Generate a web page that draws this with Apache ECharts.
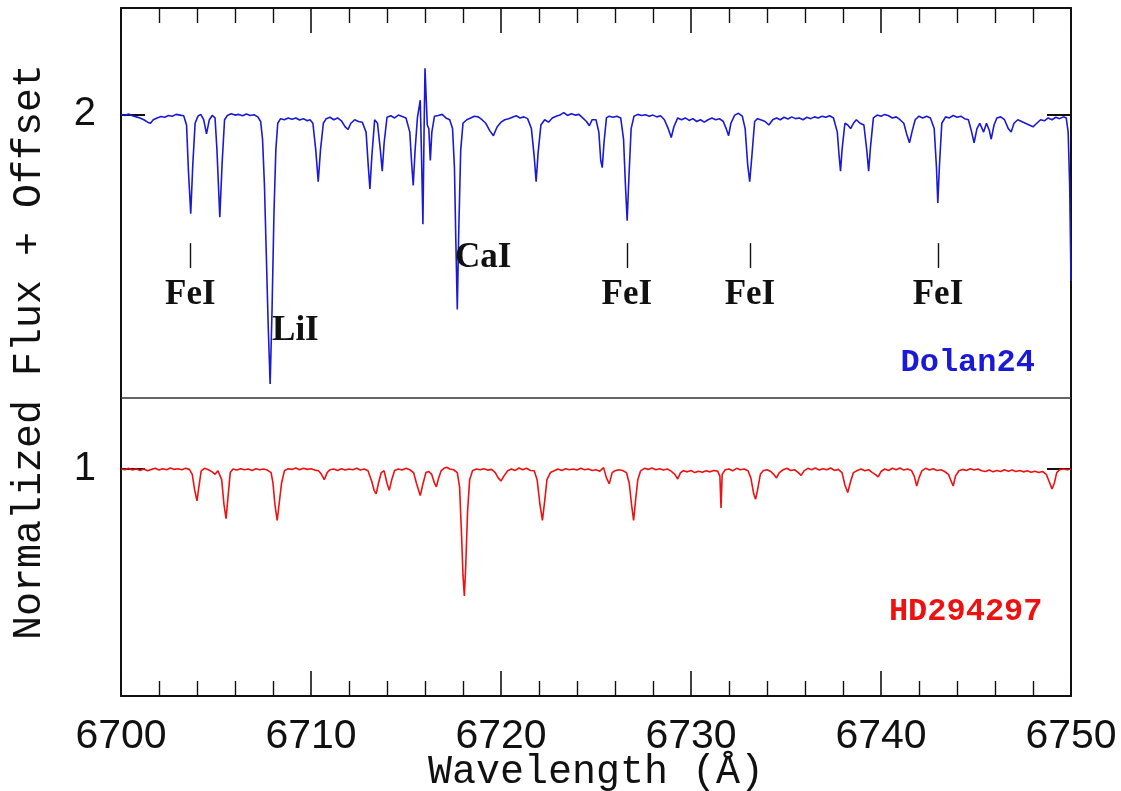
<!DOCTYPE html>
<html>
<head>
<meta charset="utf-8">
<script src="https://cdn.jsdelivr.net/npm/echarts@6/dist/echarts.min.js"></script>
<style>html,body{margin:0;padding:0;background:#fff}#c{width:1121px;height:791px}</style>
</head>
<body>
<div id="c"></div>
<script>
// ---- data ----
const xTickLabels = [6700, 6710, 6720, 6730, 6740, 6750];
const yTickLabels = [1, 2];
const separatorY = 1.2;
const feiMarks = [6703.65, 6726.62, 6733.1, 6743.0];
const lineLabels = [
  ['FeI', 6703.65, 1.49, 'center'],
  ['FeI', 6726.62, 1.49, 'center'],
  ['FeI', 6733.1, 1.49, 'center'],
  ['FeI', 6743.0, 1.49, 'center'],
  ['LiI', 6707.95, 1.39, 'left'],
  ['CaI', 6717.58, 1.595, 'left']
];
const starNames = [['Dolan24', 6748.1, 1.30], ['HD294297', 6748.5, 0.597]];

const dolanSpectrum = [
[6700.0,2.000],[6700.2,1.997],[6700.4,2.001],[6700.6,1.996],[6700.8,1.993],[6701.0,1.990],[6701.2,1.985],[6701.4,1.978],[6701.55,1.975],[6701.7,1.985],[6701.9,1.990],[6702.1,1.994],[6702.3,1.992],[6702.5,1.997],[6702.7,1.995],[6702.9,2.000],[6703.1,1.998],[6703.3,1.996],[6703.45,1.97],[6703.55,1.84],[6703.67,1.72],[6703.78,1.86],[6703.9,1.975],[6704.05,1.995],[6704.2,2.000],[6704.35,1.985],[6704.5,1.945],[6704.65,1.985],[6704.8,1.997],[6704.95,1.99],[6705.05,1.90],[6705.2,1.71],[6705.32,1.86],[6705.45,1.985],[6705.6,1.997],[6705.8,2.002],[6706.0,1.998],[6706.2,2.000],[6706.4,1.996],[6706.6,2.001],[6706.8,1.997],[6707.0,1.999],[6707.2,1.993],[6707.35,1.980],[6707.45,1.93],[6707.55,1.80],[6707.65,1.60],[6707.75,1.40],[6707.85,1.24],[6707.95,1.45],[6708.05,1.72],[6708.15,1.90],[6708.25,1.975],[6708.4,1.988],[6708.6,1.985],[6708.8,1.990],[6709.0,1.986],[6709.2,1.990],[6709.4,1.984],[6709.6,1.988],[6709.8,1.982],[6709.95,1.985],[6710.1,1.975],[6710.25,1.90],[6710.38,1.81],[6710.5,1.90],[6710.65,1.975],[6710.8,1.988],[6711.0,1.992],[6711.2,1.985],[6711.4,1.990],[6711.6,1.982],[6711.8,1.965],[6711.95,1.958],[6712.1,1.975],[6712.3,1.985],[6712.5,1.980],[6712.7,1.978],[6712.9,1.95],[6713.02,1.85],[6713.1,1.79],[6713.2,1.88],[6713.35,1.985],[6713.5,1.975],[6713.65,1.90],[6713.75,1.84],[6713.85,1.92],[6714.0,1.992],[6714.2,1.996],[6714.4,1.990],[6714.6,1.998],[6714.8,1.994],[6715.0,1.99],[6715.2,1.95],[6715.3,1.86],[6715.38,1.80],[6715.48,1.90],[6715.6,1.99],[6715.75,2.04],[6715.83,1.85],[6715.89,1.69],[6715.95,1.95],[6716.0,2.13],[6716.06,2.05],[6716.12,1.97],[6716.2,1.96],[6716.28,1.87],[6716.36,1.95],[6716.5,1.995],[6716.7,1.997],[6716.9,2.000],[6717.1,1.990],[6717.3,1.985],[6717.45,1.96],[6717.55,1.85],[6717.62,1.65],[6717.7,1.45],[6717.78,1.68],[6717.88,1.90],[6718.0,1.975],[6718.2,1.985],[6718.4,1.990],[6718.6,1.995],[6718.8,1.993],[6719.0,1.985],[6719.2,1.975],[6719.4,1.955],[6719.6,1.940],[6719.8,1.965],[6720.0,1.978],[6720.2,1.985],[6720.4,1.988],[6720.6,1.992],[6720.8,1.996],[6721.0,1.990],[6721.2,1.993],[6721.4,1.988],[6721.6,1.96],[6721.75,1.88],[6721.85,1.81],[6721.95,1.89],[6722.1,1.97],[6722.3,1.985],[6722.5,1.978],[6722.7,1.990],[6722.9,1.995],[6723.1,1.998],[6723.3,2.005],[6723.5,1.997],[6723.7,2.002],[6723.9,1.998],[6724.1,2.000],[6724.3,1.990],[6724.5,1.980],[6724.65,1.968],[6724.8,1.985],[6725.0,1.985],[6725.15,1.95],[6725.25,1.87],[6725.33,1.85],[6725.42,1.92],[6725.55,1.99],[6725.7,1.995],[6725.9,1.992],[6726.1,1.995],[6726.3,1.99],[6726.45,1.93],[6726.55,1.80],[6726.64,1.70],[6726.73,1.82],[6726.85,1.96],[6727.0,1.995],[6727.2,2.000],[6727.4,1.997],[6727.6,1.999],[6727.8,1.995],[6728.0,1.998],[6728.2,1.993],[6728.4,1.996],[6728.6,1.985],[6728.8,1.960],[6728.96,1.935],[6729.1,1.965],[6729.3,1.99],[6729.5,1.985],[6729.7,1.990],[6729.9,1.983],[6730.1,1.988],[6730.3,1.980],[6730.5,1.985],[6730.7,1.978],[6730.9,1.985],[6731.1,1.990],[6731.3,1.985],[6731.5,1.988],[6731.7,1.980],[6731.85,1.960],[6731.98,1.940],[6732.1,1.975],[6732.3,1.998],[6732.5,2.003],[6732.7,1.995],[6732.85,1.96],[6732.98,1.86],[6733.09,1.81],[6733.2,1.88],[6733.35,1.98],[6733.5,1.988],[6733.7,1.984],[6733.9,1.980],[6734.1,1.970],[6734.3,1.985],[6734.5,1.990],[6734.7,1.985],[6734.9,1.992],[6735.1,1.987],[6735.3,1.993],[6735.5,1.988],[6735.7,1.990],[6735.9,1.985],[6736.1,1.992],[6736.3,1.988],[6736.5,1.993],[6736.7,1.990],[6736.9,1.995],[6737.1,1.992],[6737.3,1.996],[6737.5,1.990],[6737.7,1.95],[6737.8,1.88],[6737.87,1.84],[6737.95,1.90],[6738.1,1.975],[6738.25,1.97],[6738.4,1.96],[6738.55,1.975],[6738.7,1.985],[6738.9,1.975],[6739.1,1.97],[6739.25,1.90],[6739.35,1.84],[6739.45,1.91],[6739.6,1.99],[6739.8,1.998],[6740.0,1.995],[6740.2,2.000],[6740.4,1.996],[6740.6,1.990],[6740.8,1.993],[6741.0,1.985],[6741.2,1.975],[6741.35,1.945],[6741.5,1.920],[6741.65,1.955],[6741.8,1.985],[6742.0,1.995],[6742.2,1.990],[6742.4,1.995],[6742.6,1.990],[6742.8,1.96],[6742.92,1.85],[6742.99,1.75],[6743.08,1.86],[6743.2,1.975],[6743.4,1.993],[6743.6,1.990],[6743.8,1.997],[6744.0,1.992],[6744.2,1.995],[6744.4,1.988],[6744.6,1.985],[6744.75,1.955],[6744.9,1.920],[6745.05,1.96],[6745.2,1.975],[6745.4,1.950],[6745.55,1.975],[6745.7,1.955],[6745.8,1.930],[6745.95,1.97],[6746.1,1.99],[6746.3,1.993],[6746.5,1.985],[6746.7,1.960],[6746.85,1.950],[6747.0,1.975],[6747.2,1.985],[6747.4,1.980],[6747.6,1.975],[6747.8,1.970],[6748.0,1.965],[6748.2,1.975],[6748.4,1.985],[6748.6,1.982],[6748.8,1.990],[6749.0,1.985],[6749.2,1.992],[6749.4,1.988],[6749.6,1.993],[6749.75,1.990],[6749.85,1.95],[6749.93,1.80],[6750.0,1.53]
];

const hdSpectrum = [
[6700.0,1.000],[6700.2,0.998],[6700.4,1.002],[6700.6,0.997],[6700.8,1.001],[6701.0,0.996],[6701.2,1.000],[6701.4,0.995],[6701.6,0.999],[6701.8,1.002],[6702.0,0.997],[6702.2,1.001],[6702.4,0.998],[6702.6,1.003],[6702.8,0.999],[6703.0,1.001],[6703.2,0.998],[6703.4,1.002],[6703.6,0.999],[6703.75,0.985],[6703.88,0.94],[6704.0,0.91],[6704.1,0.95],[6704.22,0.995],[6704.4,1.002],[6704.6,0.998],[6704.8,0.992],[6704.95,0.985],[6705.1,0.995],[6705.3,0.97],[6705.42,0.90],[6705.53,0.86],[6705.63,0.92],[6705.75,0.99],[6705.9,1.000],[6706.1,0.997],[6706.3,1.001],[6706.5,0.998],[6706.7,1.000],[6706.9,0.996],[6707.1,1.001],[6707.3,0.998],[6707.5,1.000],[6707.7,0.997],[6707.9,0.99],[6708.0,0.96],[6708.1,0.90],[6708.22,0.855],[6708.32,0.90],[6708.45,0.96],[6708.6,0.995],[6708.8,1.001],[6709.0,0.999],[6709.2,1.003],[6709.4,0.998],[6709.6,1.002],[6709.8,0.999],[6710.0,1.001],[6710.2,0.997],[6710.4,0.995],[6710.55,0.985],[6710.7,0.97],[6710.85,0.99],[6711.0,0.998],[6711.2,1.000],[6711.4,0.996],[6711.6,1.001],[6711.8,0.997],[6712.0,1.000],[6712.2,0.998],[6712.4,1.002],[6712.6,0.997],[6712.8,1.000],[6713.0,0.995],[6713.2,0.965],[6713.32,0.94],[6713.43,0.93],[6713.55,0.96],[6713.7,0.99],[6713.85,0.995],[6714.0,0.96],[6714.12,0.94],[6714.25,0.97],[6714.4,0.996],[6714.6,1.000],[6714.8,0.997],[6715.0,1.002],[6715.2,0.998],[6715.4,0.99],[6715.55,0.96],[6715.75,0.925],[6715.9,0.96],[6716.05,0.99],[6716.2,0.993],[6716.35,0.985],[6716.5,0.96],[6716.6,0.95],[6716.72,0.975],[6716.85,0.995],[6717.0,1.002],[6717.15,1.005],[6717.3,1.000],[6717.5,0.998],[6717.7,0.99],[6717.82,0.95],[6717.92,0.82],[6718.0,0.70],[6718.07,0.642],[6718.14,0.72],[6718.24,0.88],[6718.35,0.97],[6718.5,0.995],[6718.7,1.000],[6718.9,0.998],[6719.1,1.001],[6719.3,0.997],[6719.5,0.999],[6719.7,0.99],[6719.85,0.975],[6720.0,0.966],[6720.15,0.98],[6720.35,0.995],[6720.55,1.000],[6720.75,0.996],[6720.95,1.003],[6721.15,0.998],[6721.35,1.002],[6721.55,0.996],[6721.75,0.995],[6721.9,0.97],[6722.05,0.90],[6722.18,0.855],[6722.3,0.91],[6722.42,0.97],[6722.6,0.99],[6722.8,0.995],[6723.0,1.000],[6723.2,0.996],[6723.4,1.001],[6723.6,0.998],[6723.8,1.000],[6724.0,0.997],[6724.2,1.002],[6724.4,0.998],[6724.6,1.000],[6724.8,0.996],[6725.0,0.998],[6725.2,0.994],[6725.4,1.004],[6725.55,0.975],[6725.7,0.958],[6725.85,0.99],[6726.0,0.995],[6726.2,0.998],[6726.4,0.996],[6726.6,0.99],[6726.75,0.96],[6726.87,0.90],[6726.98,0.855],[6727.08,0.91],[6727.2,0.97],[6727.35,0.995],[6727.55,1.002],[6727.75,0.999],[6727.95,1.003],[6728.15,0.998],[6728.35,1.001],[6728.55,0.997],[6728.75,1.000],[6728.95,0.994],[6729.15,0.985],[6729.3,0.972],[6729.45,0.99],[6729.6,0.995],[6729.8,0.992],[6730.0,0.996],[6730.2,0.990],[6730.4,0.994],[6730.6,0.991],[6730.8,0.995],[6731.0,0.992],[6731.2,0.996],[6731.4,0.994],[6731.52,0.98],[6731.58,0.89],[6731.64,0.985],[6731.8,0.998],[6732.0,1.000],[6732.2,0.995],[6732.4,1.002],[6732.6,0.998],[6732.8,1.000],[6733.0,0.995],[6733.15,0.975],[6733.3,0.93],[6733.4,0.915],[6733.5,0.94],[6733.65,0.985],[6733.8,0.995],[6734.0,0.998],[6734.2,0.993],[6734.35,0.985],[6734.5,0.975],[6734.65,0.99],[6734.85,0.998],[6735.05,1.002],[6735.25,0.996],[6735.45,0.998],[6735.65,0.99],[6735.8,0.982],[6735.95,0.995],[6736.15,1.002],[6736.35,0.998],[6736.55,1.003],[6736.75,0.997],[6736.95,1.001],[6737.15,0.998],[6737.35,1.003],[6737.55,0.996],[6737.75,0.999],[6737.95,0.99],[6738.1,0.955],[6738.25,0.934],[6738.4,0.965],[6738.55,0.99],[6738.75,0.996],[6738.95,1.000],[6739.15,0.995],[6739.35,0.998],[6739.55,0.99],[6739.7,0.985],[6739.85,0.978],[6740.0,0.993],[6740.2,1.000],[6740.4,0.996],[6740.6,1.002],[6740.8,0.998],[6741.0,1.003],[6741.2,0.997],[6741.4,1.000],[6741.6,0.996],[6741.75,0.98],[6741.88,0.952],[6742.0,0.975],[6742.15,0.995],[6742.35,1.002],[6742.55,0.997],[6742.75,1.001],[6742.95,0.996],[6743.15,0.998],[6743.35,0.993],[6743.55,0.985],[6743.7,0.965],[6743.8,0.952],[6743.92,0.98],[6744.1,0.995],[6744.3,0.999],[6744.5,0.996],[6744.7,1.001],[6744.9,0.997],[6745.1,1.000],[6745.3,0.995],[6745.5,0.993],[6745.7,0.997],[6745.9,0.992],[6746.1,0.996],[6746.3,0.993],[6746.5,0.998],[6746.7,0.994],[6746.9,0.997],[6747.1,0.993],[6747.3,0.996],[6747.5,0.992],[6747.7,0.995],[6747.9,0.991],[6748.1,0.994],[6748.3,0.990],[6748.5,0.993],[6748.7,0.985],[6748.85,0.965],[6749.0,0.944],[6749.12,0.96],[6749.25,0.99],[6749.4,0.998],[6749.6,1.000],[6749.8,0.998],[6750.0,1.000]
];

// ---- chart ----
const BLUE = '#1a1ad6', RED = '#ee1111', INK = '#111';
const chart = echarts.init(document.getElementById('c'));

const xCommon = {
  type: 'value', min: 6700, max: 6750, interval: 10,
  axisLine: { show: true, onZero: false, lineStyle: { color: INK, width: 2 } },
  axisTick: { show: true, inside: true, length: 25, lineStyle: { color: INK, width: 1.6 } },
  minorTick: { show: true, splitNumber: 5, length: 15, lineStyle: { color: INK, width: 1.4 } },
  splitLine: { show: false }, minorSplitLine: { show: false }
};
const yCommon = {
  type: 'value', min: 0.36, max: 2.3,
  axisLine: { show: true, onZero: false, lineStyle: { color: INK, width: 2 } },
  axisTick: { show: true, inside: true, length: 24, customValues: yTickLabels, lineStyle: { color: INK, width: 2 } },
  splitLine: { show: false }
};

function textLabel(text, align, family, size, color) {
  return { show: true, position: 'inside', formatter: text, align: align, verticalAlign: 'middle',
    fontFamily: family, fontWeight: 'bold', fontSize: size, color: color,
    textBorderWidth: 0, textShadowBlur: 0, opacity: 1 };
}
const labelData = lineLabels.map(d => ({
  value: [d[1], d[2]], label: textLabel(d[0], d[3], 'Liberation Serif', 35, INK)
})).concat(starNames.map((d, i) => ({
  value: [d[1], d[2]], label: textLabel(d[0], 'right', 'Liberation Mono', 32, i === 0 ? BLUE : RED)
})));

chart.setOption({
  animation: false,
  backgroundColor: '#fff',
  grid: { left: 121, right: 50, top: 8, bottom: 95, containLabel: false, outerBoundsMode: 'none' },
  xAxis: [
    Object.assign({}, xCommon, {
      position: 'bottom',
      axisLabel: { show: true, fontFamily: 'Liberation Sans', fontSize: 41, color: INK, margin: 20,
        customValues: xTickLabels, formatter: v => String(v) },
      name: 'Wavelength (Å)', nameLocation: 'middle', nameGap: 56, nameMoveOverlap: false,
      nameTextStyle: { fontFamily: 'Liberation Mono', fontSize: 40, color: INK }
    }),
    Object.assign({}, xCommon, { position: 'top', axisLabel: { show: false } })
  ],
  yAxis: [
    Object.assign({}, yCommon, {
      position: 'left',
      axisLabel: { show: true, customValues: yTickLabels, fontFamily: 'Liberation Sans', fontSize: 40, color: INK, margin: 25,
        formatter: v => String(v) },
      name: 'Normalized Flux + Offset', nameLocation: 'middle', nameGap: 72, nameRotate: 90, nameMoveOverlap: false,
      nameTextStyle: { fontFamily: 'Liberation Mono', fontSize: 40, color: INK }
    }),
    Object.assign({}, yCommon, { position: 'right', axisLabel: { show: false } })
  ],
  series: [
    { type: 'line', name: 'separator', data: [[6700, separatorY], [6750, separatorY]], showSymbol: false,
      lineStyle: { color: '#333', width: 1.5 }, silent: true },
    { type: 'line', name: 'Dolan24', data: dolanSpectrum, showSymbol: false, lineStyle: { color: BLUE, width: 1.6 }, z: 3,
      markLine: { silent: true, symbol: 'none', label: { show: false },
        lineStyle: { color: INK, width: 1.4, type: 'solid' },
        data: feiMarks.map(x => [{ coord: [x, 1.567] }, { coord: [x, 1.637] }]) } },
    { type: 'line', name: 'HD294297', data: hdSpectrum, showSymbol: false, lineStyle: { color: RED, width: 1.6 }, z: 3 },
    { type: 'scatter', name: 'labels', data: labelData, symbolSize: 0, itemStyle: { color: '#fff', opacity: 1 }, silent: true, z: 5 }
  ]
});
</script>
</body>
</html>
